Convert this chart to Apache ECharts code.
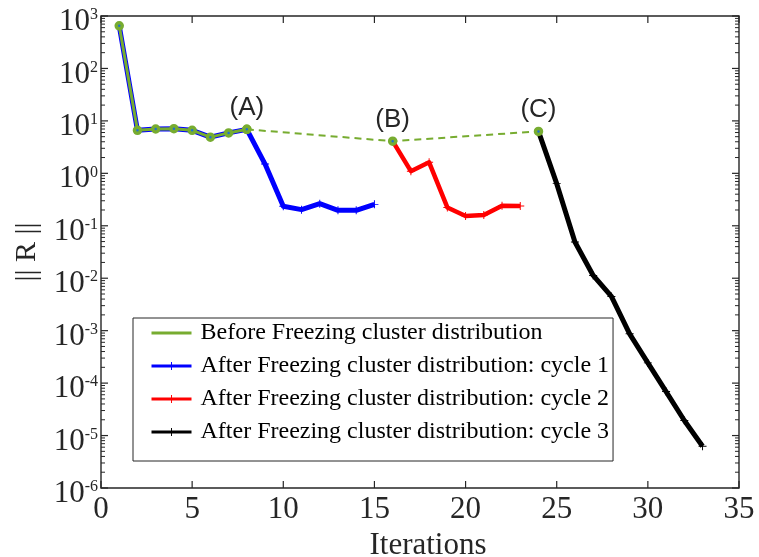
<!DOCTYPE html>
<html>
<head>
<meta charset="utf-8">
<script src="https://cdn.jsdelivr.net/npm/echarts@6/dist/echarts.min.js"></script>
<style>
html, body { margin: 0; padding: 0; background: #fff; }
#chart { width: 759px; height: 557px; }
</style>
</head>
<body>
<div id="chart"></div>
<script>
// residual history
const iterBefore = [1, 2, 3, 4, 5, 6, 7, 8];
const resBefore = [650, 6.6, 7.0, 7.1, 6.6, 4.9, 5.9, 6.9];
const iterFreeze = [8, 16, 24];
const resFreeze = [6.9, 4.1, 6.3];
const freezeNotes = ['(A)', '(B)', '(C)'];
const iterCycle1 = [9, 10, 11, 12, 13, 14, 15];
const resCycle1 = [1.5, 0.235, 0.203, 0.264, 0.197, 0.197, 0.256];
const iterCycle2 = [16, 17, 18, 19, 20, 21, 22, 23];
const resCycle2 = [4.1, 1.1, 1.62, 0.224, 0.153, 0.16, 0.242, 0.238];
const iterCycle3 = [24, 25, 26, 27, 28, 29, 30, 31, 32, 33];
const resCycle3 = [6.3, 0.636, 0.0489, 0.0113, 0.0045, 0.00087, 0.000243, 0.000069, 0.0000194, 0.00000625];
const seriesNames = [
  'Before Freezing cluster distribution',
  'After Freezing cluster distribution: cycle 1',
  'After Freezing cluster distribution: cycle 2',
  'After Freezing cluster distribution: cycle 3'
];

// axes
const xRange = [0, 35];
const xStep = 5;
const xTickValues = [0, 5, 10, 15, 20, 25, 30, 35];
const yRange = [1e-6, 1e3];
const yTickExponents = [-6, -5, -4, -3, -2, -1, 0, 1, 2, 3];
const yMinorFactors = [2, 3, 4, 5, 6, 7, 8, 9];

const pairs = (xs, ys) => xs.map((x, i) => [x, ys[i]]);
const plus = 'path://M0,4.4H10V5.6H0Z M4.4,0H5.6V10H4.4Z';
const serif = 'Liberation Serif';
const ink = '#262626';
const green = '#77ac30';

// MATLAB style inward ticks on all four sides: [x, y, kind] (0 x major, 1 y major, 2 y minor)
const tickData = [];
xTickValues.forEach(v => tickData.push([v, yRange[0], 0]));
yTickExponents.forEach(e => {
  tickData.push([xRange[0], Math.pow(10, e), 1]);
  if (e < yTickExponents[yTickExponents.length - 1]) {
    yMinorFactors.forEach(f => tickData.push([xRange[0], f * Math.pow(10, e), 2]));
  }
});

function renderTick(params, api) {
  const kind = api.value(2);
  const style = { stroke: ink, lineWidth: kind === 2 ? 1 : 1.2 };
  if (kind === 0) {
    const x = api.value(0);
    const b = api.coord([x, yRange[0]]);
    const t = api.coord([x, yRange[1]]);
    return { type: 'group', children: [
      { type: 'line', shape: { x1: b[0], y1: b[1], x2: b[0], y2: b[1] - 7 }, style: style },
      { type: 'line', shape: { x1: t[0], y1: t[1], x2: t[0], y2: t[1] + 7 }, style: style }
    ] };
  }
  const y = api.value(1);
  const len = kind === 1 ? 7 : 4;
  const l = api.coord([xRange[0], y]);
  const r = api.coord([xRange[1], y]);
  return { type: 'group', children: [
    { type: 'line', shape: { x1: l[0], y1: l[1], x2: l[0] + len, y2: l[1] }, style: style },
    { type: 'line', shape: { x1: r[0], y1: r[1], x2: r[0] - len, y2: r[1] }, style: style }
  ] };
}

const chart = echarts.init(document.getElementById('chart'));

const option = {
  animation: false,
  backgroundColor: '#fff',
  grid: {
    left: 101, right: 20, top: 16, bottom: 69,
    outerBoundsMode: 'none', containLabel: false,
    show: true, borderColor: ink, borderWidth: 1.4, backgroundColor: 'transparent'
  },
  legend: {
    orient: 'vertical',
    left: 133,
    top: 318,
    padding: [2, 4, 16, 17],
    itemGap: 7,
    itemWidth: 40,
    itemHeight: 10,
    selectedMode: false,
    backgroundColor: '#fff',
    borderColor: ink,
    borderWidth: 1,
    lineStyle: { width: 3 },
    textStyle: { fontFamily: serif, fontSize: 24, color: '#000', lineHeight: 26, padding: [0, 0, 0, 4] },
    data: [
      { name: seriesNames[0], itemStyle: { opacity: 0 } },
      { name: seriesNames[1] },
      { name: seriesNames[2] },
      { name: seriesNames[3] }
    ]
  },
  xAxis: {
    type: 'value',
    min: xRange[0],
    max: xRange[1],
    interval: xStep,
    name: 'Iterations',
    nameLocation: 'middle',
    nameGap: 29,
    nameTextStyle: { fontFamily: serif, fontSize: 31, color: ink, padding: [0, 0, 0, 16] },
    axisLine: { show: false, onZero: false },
    axisTick: { show: false },
    splitLine: { show: false },
    axisLabel: { fontFamily: serif, fontSize: 31, color: ink, margin: 6 }
  },
  yAxis: {
    type: 'log',
    min: yRange[0],
    max: yRange[1],
    logBase: 10,
    name: '|| R ||',
    nameLocation: 'middle',
    nameGap: 59,
    nameTextStyle: { fontFamily: serif, fontSize: 30, color: ink },
    axisLine: { show: false, onZero: false },
    axisTick: { show: false },
    minorTick: { show: false },
    splitLine: { show: false },
    axisLabel: {
      margin: 3,
      padding: [12, 0, 0, 0],
      formatter: v => '{b|10}{s|' + Math.round(Math.log10(v)) + '}',
      rich: {
        b: { fontFamily: serif, fontSize: 31, color: ink, lineHeight: 30 },
        s: { fontFamily: serif, fontSize: 16, color: ink, lineHeight: 16, verticalAlign: 'top' }
      }
    }
  },
  series: [
    {
      type: 'custom',
      silent: true,
      clip: false,
      renderItem: renderTick,
      data: tickData,
      z: 1
    },
    {
      name: seriesNames[1],
      type: 'line',
      data: pairs(iterBefore.concat(iterCycle1), resBefore.concat(resCycle1)),
      symbol: plus,
      symbolSize: 8,
      lineStyle: { color: '#0000ff', width: 5, join: 'round' },
      itemStyle: { color: '#0000ff', borderWidth: 0 },
      z: 2
    },
    {
      name: seriesNames[0],
      type: 'line',
      data: pairs(iterBefore, resBefore),
      symbol: 'circle',
      symbolSize: 6,
      lineStyle: { color: green, width: 3, join: 'round' },
      itemStyle: { color: '#1f6fd0', borderColor: green, borderWidth: 3.5 },
      z: 4
    },
    {
      name: seriesNames[2],
      type: 'line',
      data: pairs(iterCycle2, resCycle2),
      symbol: plus,
      symbolSize: 8,
      lineStyle: { color: '#ff0000', width: 4.5, join: 'round' },
      itemStyle: { color: '#ff0000', borderWidth: 0 },
      z: 2
    },
    {
      name: seriesNames[3],
      type: 'line',
      data: pairs(iterCycle3, resCycle3),
      symbol: plus,
      symbolSize: 8,
      lineStyle: { color: '#000000', width: 5, join: 'round' },
      itemStyle: { color: '#000000', borderWidth: 0 },
      z: 2
    },
    {
      name: seriesNames[0],
      type: 'line',
      data: pairs(iterFreeze, resFreeze),
      symbol: 'circle',
      symbolSize: 6,
      lineStyle: { color: green, width: 2, type: [7, 5] },
      itemStyle: { color: '#1f6fd0', borderColor: green, borderWidth: 3.5 },
      label: {
        show: true,
        position: 'top',
        distance: 4,
        formatter: p => freezeNotes[p.dataIndex],
        fontFamily: 'Liberation Sans',
        fontSize: 26,
        color: ink
      },
      z: 5
    }
  ]
};

chart.setOption(option);
window.addEventListener('resize', () => chart.resize());
</script>
</body>
</html>
